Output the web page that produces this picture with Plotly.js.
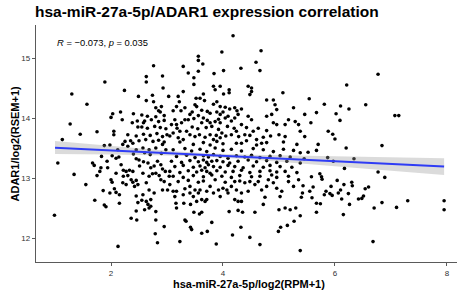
<!DOCTYPE html>
<html><head><meta charset="utf-8">
<script src="https://cdn.plot.ly/plotly-3.0.1.min.js"></script>
<style>html,body{margin:0;padding:0;background:#fff}#chart{width:461px;height:294px}</style>
</head><body><div id="chart"></div>
<script>
// ---- data ----
// upper-left region
const xA=[2.76,2.63,2.92,2.63,1.89,2.93,2.24,1.30,2.49,2.74,3.03,2.63,2.76,2.80,2.85,2.90,2.88,1.57,2.03,2.00,2.17,2.20,2.40,2.47,2.55,2.38,2.58,2.48,1.27,1.45,1.75,2.05,2.05,1.13];
const yA=[14.87,14.69,14.70,14.60,14.60,14.50,14.46,14.40,14.36,14.38,14.36,14.29,14.27,14.17,14.12,14.19,14.10,14.23,14.07,14.01,14.10,13.97,14.07,13.95,14.05,13.92,13.92,13.85,13.90,13.73,13.77,13.78,13.72,13.64];
// lower-left region
const xB=[1.05,1.34,1.55,0.99,1.71,1.88,1.91,2.125,1.67,1.70,
1.82,1.80,1.75,1.93,1.94,1.88,1.98,1.83,2.02,2.09,
2.14,2.09,2.00,2.02,1.86,1.98,2.06,2.09,2.15,2.15,
2.21,2.27,2.18,2.22,2.27,2.33,2.39,2.22,2.30,2.36,
2.39,2.45,2.48,2.42,2.45,2.48,2.45,2.46,2.36,2.55,
2.63,2.66,2.60,2.68,2.71,2.80,2.80,2.95,2.79,2.83,
2.45,2.50,2.71,2.77,2.89,2.92,2.80,2.74,2.86,2.89,
2.95,2.92,3.01,3.04,2.97,2.57,2.51,2.68,2.63,2.68,
2.77,2.71,2.57,2.12,2.21,2.30,2.39,2.45,2.57,2.68,
2.80,2.92,2.98,2.25,2.35];
const yB=[13.25,13.06,12.89,12.38,12.63,12.55,12.52,11.86,13.25,13.21,
13.17,13.11,13.04,13.28,13.17,13.54,13.55,13.36,13.37,13.33,
13.35,13.08,12.97,12.93,12.79,12.75,12.82,12.76,12.72,12.58,
12.92,12.89,13.22,13.13,13.11,13.13,13.11,13.03,13.04,12.97,
12.93,12.96,12.89,12.86,12.70,12.59,12.45,12.30,12.33,12.63,
12.61,12.56,12.47,12.50,12.53,12.44,12.30,12.19,12.07,11.92,
13.32,13.30,13.17,13.20,13.22,13.15,13.08,13.07,13.04,12.97,
12.94,12.80,12.80,13.03,13.11,13.08,13.20,13.03,12.92,12.80,
12.75,12.64,12.72,13.47,13.56,13.53,13.58,13.47,13.50,13.47,
13.50,13.56,13.47,13.61,13.62];
const xH=[2.50,2.62,2.75,2.85,2.95,2.30,2.45,2.58,2.70,2.82,2.92,3.00,2.55,2.65,2.78,2.88,2.98,2.60,2.72,2.85,2.95,2.65,2.80,2.95,2.40,2.60,2.70,2.90,2.58,2.66,2.83];
const yH=[13.62,13.64,13.61,13.63,13.60,13.72,13.70,13.73,13.71,13.74,13.69,13.72,13.85,13.83,13.86,13.84,13.82,13.95,13.97,13.94,13.96,14.03,14.02,14.04,13.40,13.42,13.39,13.41,13.27,13.25,13.28];
// upper-middle region
const xC=[4.18,3.98,4.68,3.56,3.56,3.64,3.29,4.59,4.66,4.32,
4.01,3.84,3.56,3.38,3.48,3.48,3.83,3.86,3.95,4.11,
4.11,4.01,4.45,4.51,4.48,4.51,5.07,3.20,3.29,3.22,
3.17,3.32,3.11,3.52,3.50,3.59,3.65,3.67,3.53,3.83,
3.89,3.95,4.04,4.12,4.21,4.33,4.78,4.90,4.93,4.96,
5.26,5.46,4.78,4.87,4.45,4.51,4.27,4.21,4.33];
const yC=[15.37,15.10,15.12,15.03,14.96,14.90,14.86,14.93,14.79,14.83,
14.79,14.74,14.78,14.75,14.67,14.56,14.53,14.47,14.53,14.47,
14.42,14.40,14.53,14.50,14.39,14.44,14.42,14.36,14.44,14.27,
14.19,14.17,14.12,14.33,14.22,14.33,14.40,14.29,14.19,14.23,
14.27,14.19,14.18,14.15,14.17,14.15,14.30,14.30,14.22,14.14,
14.17,14.06,14.03,14.06,14.03,13.97,14.06,14.00,13.89];
// middle region above the fit
const xD=[3.77,3.89,3.95,4.00,4.04,4.09,3.86,3.95,3.77,3.80,
3.65,3.62,3.56,3.41,3.32,3.26,3.14,3.08,3.17,3.11,
3.23,3.35,3.41,3.20,3.29,4.24,4.39,4.54,4.63,4.78,
4.90,4.96,5.11,5.17,5.29,5.35,5.38,5.46,5.11,4.33,
4.60,4.69,3.77,3.83,3.95,3.98,4.15,
3.05,3.50,3.58,3.68,3.88,4.05,4.28,4.48,4.72,4.85,5.00,3.18,3.45,3.55,3.70,3.92,4.08,4.20,4.42,3.38,3.48,3.72,3.92,4.15,3.25,3.45,3.62,3.72,4.25];
const yD=[14.08,14.10,14.06,14.10,14.00,14.03,13.94,13.92,13.92,13.86,
14.00,13.92,14.04,14.06,13.97,13.92,13.97,13.89,13.89,13.75,
13.78,13.78,13.72,13.67,13.64,13.78,13.72,13.78,13.83,13.79,
13.92,13.89,13.89,13.97,13.94,13.89,13.78,13.69,13.69,13.58,
13.64,13.58,13.72,13.64,13.67,13.75,13.72,
13.70,13.69,13.72,13.68,13.71,13.70,13.69,13.71,13.68,13.70,13.72,13.83,13.85,13.82,13.84,13.81,13.86,13.83,13.84,13.97,13.99,13.96,13.98,13.95,14.12,14.10,14.13,14.11,14.12];
// lower-middle region
const xE=[3.23,3.88,4.66,5.38,3.62,3.72,4.17,4.48,3.42,3.44,
3.80,4.32,4.99,5.03,5.15,5.27,5.38,3.32,3.34,3.48,
3.58,3.62,4.11,4.27,4.35,4.57,5.00,5.11,5.20,5.30,
3.17,3.16,3.30,3.42,3.53,3.62,3.68,3.71,3.95,4.07,
4.21,4.27,4.33,4.45,4.72,4.75,3.05,3.11,3.17,3.14,
3.29,3.32,3.41,3.50,3.41,3.47,3.56,3.59,3.71,3.77,
3.83,3.92,4.00,4.09,4.15,4.24,4.33,4.21,4.39,4.48,
4.57,4.63,4.69,4.78,4.81,4.90,4.96,5.02,5.05,5.17,
5.26,5.35];
const yE=[11.94,11.90,11.89,11.79,12.08,12.11,12.05,12.01,12.18,12.14,
12.26,12.18,12.11,12.18,12.21,12.28,12.37,12.30,12.28,12.43,
12.40,12.43,12.44,12.46,12.43,12.43,12.47,12.50,12.47,12.50,
12.50,12.58,12.58,12.56,12.61,12.64,12.61,12.64,12.69,12.80,
12.64,12.61,12.61,12.78,12.56,12.68,12.89,12.78,12.78,12.69,
12.72,12.82,12.86,12.80,12.75,12.69,12.75,12.80,12.78,12.86,
12.75,12.80,12.83,12.75,12.86,12.80,12.75,12.94,12.92,12.94,
12.89,12.94,12.80,12.86,12.97,12.92,12.83,12.69,12.78,12.94,
12.86,12.97];
// dense core around the fit line
const xF=[3.23,3.47,3.65,3.77,3.89,4.00,4.24,4.42,4.60,4.78,5.08,5.32,
3.11,3.32,3.44,3.59,3.71,3.86,4.00,4.15,4.33,4.54,4.72,4.90,5.08,5.26,
3.17,3.35,3.50,3.65,3.74,3.83,3.95,4.09,4.24,4.39,4.51,4.66,4.84,5.02,5.20,
3.08,3.26,3.41,3.56,3.65,3.71,3.80,3.89,4.00,4.12,4.27,4.45,4.60,4.78,4.96,5.14,
3.14,3.29,3.47,3.59,3.68,3.74,3.83,3.95,4.09,4.21,4.36,4.54,4.72,4.84,5.02,5.23,
3.05,3.23,3.38,3.53,3.62,3.71,3.77,3.89,4.04,4.18,4.33,4.48,4.66,4.84,4.96,5.11,5.32,
3.11,3.29,3.47,3.65,3.80,3.98,4.15,4.30,4.51,4.66,4.87,4.96,5.17,
3.20,3.38,3.56,3.65,3.86,4.04,4.30];
const yF=[13.60,13.56,13.59,13.55,13.61,13.57,13.58,13.62,13.55,13.59,13.60,13.56,
13.47,13.49,13.45,13.48,13.44,13.50,13.46,13.48,13.45,13.49,13.47,13.44,13.48,13.46,
13.36,13.38,13.34,13.37,13.35,13.39,13.36,13.33,13.37,13.35,13.38,13.34,13.36,13.37,13.35,
13.28,13.26,13.29,13.27,13.30,13.26,13.28,13.29,13.27,13.25,13.28,13.30,13.27,13.29,13.26,13.28,
13.19,13.21,13.18,13.20,13.17,13.22,13.19,13.18,13.21,13.19,13.17,13.20,13.18,13.21,13.19,13.18,
13.11,13.09,13.12,13.10,13.13,13.11,13.08,13.12,13.10,13.11,13.13,13.09,13.11,13.12,13.10,13.11,13.09,
13.03,13.01,13.04,13.02,13.05,13.03,13.01,13.04,13.02,13.03,13.05,13.01,13.03,
12.94,12.96,12.93,12.95,12.97,12.93,12.95];
// right region
const xG=[6.77,6.21,5.54,5.81,6.10,6.25,6.55,5.67,6.02,6.09,
5.57,7.07,7.14,5.88,5.96,6.00,5.70,5.67,5.52,5.38,
6.20,6.84,5.87,5.97,6.34,5.45,5.38,6.17,6.77,6.89,
5.58,5.73,5.76,5.77,5.43,5.61,5.42,5.40,5.55,5.59,
5.67,5.74,5.67,6.04,6.16,6.10,6.30,6.31,5.93,5.84,
5.81,5.91,5.95,6.06,6.24,6.12,6.26,6.15,6.42,6.48,
6.51,6.54,6.60,6.70,6.84,7.10,7.30,7.95,7.95,6.68];
const yG=[14.73,14.55,14.32,14.23,14.20,14.15,14.22,14.09,14.07,13.96,
13.92,14.04,14.04,13.78,13.73,13.65,13.56,13.46,13.43,13.42,
13.50,13.54,13.34,13.28,13.32,13.32,13.25,13.16,13.10,13.01,
13.02,13.07,13.02,12.98,12.87,12.85,12.75,12.68,12.78,12.67,
12.58,12.57,12.43,12.96,12.89,12.80,12.93,12.87,12.86,12.78,
12.72,12.74,12.71,12.75,12.74,12.65,12.56,12.39,12.65,12.66,
12.70,12.82,12.85,12.50,12.59,12.51,12.62,12.62,12.47,11.94];
// regression fit and confidence band
const fitX=[1.00,2.00,3.00,3.70,4.50,5.50,6.50,7.95];
const fitY=[13.505,13.46,13.415,13.384,13.348,13.303,13.258,13.19];
const bandLow=[13.40,13.39,13.375,13.354,13.31,13.235,13.16,13.05];
const bandHigh=[13.615,13.53,13.455,13.414,13.386,13.371,13.356,13.33];
const statText='<i>R</i> = \u22120.073, <i>p</i> = 0.035';
const xTitle='<b>hsa-miR-27a-5p/log2(RPM+1)</b>';
const yTitle='<b>ADAR1/log2(RSEM+1)</b>';

const xs=[].concat(xA,xB,xH,xC,xD,xE,xF,xG);
const ys=[].concat(yA,yB,yH,yC,yD,yE,yF,yG);

const traces=[
 {type:'scatter',mode:'markers',x:xs,y:ys,marker:{color:'#000',size:3.6},hoverinfo:'skip'},
 {type:'scatter',mode:'lines',x:fitX.concat(fitX.slice().reverse()),y:bandHigh.concat(bandLow.slice().reverse()),
  fill:'toself',fillcolor:'rgba(153,153,153,0.35)',line:{width:0},hoverinfo:'skip'},
 {type:'scatter',mode:'lines',x:fitX,y:fitY,line:{color:'#2f3cf5',width:2},hoverinfo:'skip'}
];
const fam='Liberation Sans, Arial, sans-serif';
const axisCommon={showgrid:false,zeroline:false,showline:true,linecolor:'#5a5a5a',linewidth:1.2,
 ticks:'outside',ticklen:3,tickcolor:'#5a5a5a',tickfont:{family:fam,size:8,color:'#333'}};
const layout={
 width:461,height:294,margin:{l:36,r:4,t:25,b:32},
 paper_bgcolor:'#fff',plot_bgcolor:'#fff',showlegend:false,
 font:{family:fam,color:'#000'},
 title:{text:'<b>hsa-miR-27a-5p/ADAR1 expression correlation</b>',xref:'container',yref:'container',
  x:35/461,xanchor:'left',y:1-12/294,yanchor:'middle',font:{size:15.5,color:'#000'}},
 xaxis:Object.assign({},axisCommon,{range:[0.66,8.18],tickvals:[2,4,6,8]}),
 yaxis:Object.assign({},axisCommon,{range:[11.6,15.55],tickvals:[12,13,14,15]}),
 annotations:[
  {text:statText,xref:'paper',yref:'paper',x:19/421,y:1-17/237,xanchor:'left',yanchor:'middle',
   showarrow:false,font:{size:9.4,color:'#000'}},
  {text:xTitle,xref:'paper',yref:'paper',x:(249-36)/421,y:(262-284)/237,xanchor:'center',yanchor:'middle',
   showarrow:false,font:{size:11,color:'#000'}},
  {text:yTitle,xref:'paper',yref:'paper',x:(14-36)/421,y:0.5,xanchor:'center',yanchor:'middle',textangle:-90,
   showarrow:false,font:{size:11,color:'#000'}}
 ]
};
Plotly.newPlot('chart',traces,layout,{staticPlot:true,displayModeBar:false});
</script></body></html>
